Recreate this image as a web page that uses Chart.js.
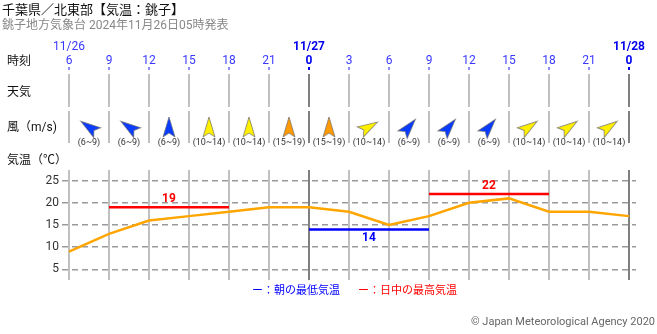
<!DOCTYPE html>
<html lang="ja">
<head>
<meta charset="utf-8">
<title>千葉県／北東部【気温：銚子】</title>
<script src="https://cdn.jsdelivr.net/npm/chart.js@4.4.1/dist/chart.umd.min.js"></script>
<style>
  html, body { margin: 0; padding: 0; background: #fff; }
  #wrap { width: 657px; height: 334px; position: relative; }
</style>
</head>
<body>
<div id="wrap"><canvas id="grafico-temp"></canvas></div>
<script>
const FONT = "Roboto, 'Noto Sans CJK JP', sans-serif";

// 3時間ごとの時刻（11/26 06時〜11/28 00時）
const hourLabels = [6, 9, 12, 15, 18, 21, 0, 3, 6, 9, 12, 15, 18, 21, 0];
const dateLabels = ["11/26", "", "", "", "", "", "11/27", "", "", "", "", "", "", "", "11/28"];

// 気温（℃）
const temperatures = [9, 13, 16, 17, 18, 19, 19, 18, 15, 17, 20, 21, 18, 18, 17];
const yTicks = [5, 10, 15, 20, 25];

// 風向（向かう方位、度）と風速の階級
const windDirections = [305, 305, 0, 0, 0, 0, 0, 60, 40, 40, 40, 55, 55, 55];
const windSpeeds = ["6~9", "6~9", "6~9", "10~14", "10~14", "15~19", "15~19",
                    "10~14", "6~9", "6~9", "6~9", "10~14", "10~14", "10~14"];

// 朝の最低気温・日中の最高気温（時刻の添字で区間）
const minSpans = [[6, 9]];
const minValues = [14];
const maxSpans = [[1, 4], [9, 12]];
const maxValues = [19, 22];

const windColors = { "6~9": "#0a3cff", "10~14": "#fff000", "15~19": "#ff9a00" };

function spanData(spans, values) {
  return spans.map((s, k) => [
    { x: s[0] * 3, y: values[k] },
    { x: s[1] * 3, y: values[k] },
  ]);
}

function drawArrow(ctx, cx, cy, deg, color) {
  ctx.save();
  ctx.translate(cx, cy);
  ctx.rotate((deg * Math.PI) / 180);
  ctx.beginPath();
  ctx.moveTo(0, -10);
  ctx.lineTo(6, 10);
  ctx.lineTo(0, 6);
  ctx.lineTo(-6, 10);
  ctx.closePath();
  ctx.fillStyle = color;
  ctx.fill();
  ctx.strokeStyle = "rgba(110,110,110,0.7)";
  ctx.lineWidth = 1;
  ctx.stroke();
  ctx.restore();
}

// 表の上段（時刻・天気・風）と注記
const tablePlugin = {
  id: "tablePlugin",
  afterDraw(chart) {
    const ctx = chart.ctx;
    const xs = chart.scales.x;
    const ys = chart.scales.y;
    ctx.save();
    ctx.textBaseline = "middle";

    ctx.textAlign = "left";
    ctx.fillStyle = "#111";
    ctx.font = "13px " + FONT;
    ctx.fillText("千葉県／北東部【気温：銚子】", 2, 11);
    ctx.fillStyle = "#888";
    ctx.font = "12px " + FONT;
    ctx.fillText("銚子地方気象台 2024年11月26日05時発表", 2, 26);

    ctx.fillStyle = "#111";
    ctx.font = "12px " + FONT;
    ctx.fillText("時刻", 7, 62);
    ctx.fillText("天気", 7, 93);
    ctx.fillText("風（m/s)", 7, 128);
    ctx.fillText("気温（℃）", 7, 161);

    ctx.textAlign = "center";
    hourLabels.forEach((h, i) => {
      const x = Math.round(xs.getPixelForValue(i * 3));
      const midnight = h === 0;
      ctx.font = (midnight ? "bold " : "") + "12px " + FONT;
      ctx.fillStyle = midnight ? "#0000ee" : "#3838ff";
      if (dateLabels[i]) ctx.fillText(dateLabels[i], x, 47);
      ctx.fillText(String(h), x, 61);
      ctx.fillStyle = midnight ? "#0000ee" : "#8c8cff";
      ctx.fillRect(x - 1, 67, 2, 3);
      ctx.fillStyle = midnight ? "#808080" : "#c0c0c0";
      ctx.fillRect(x - 1, 74, 2, 33);
      ctx.fillRect(x - 1, 111, 2, 32);
    });

    windDirections.forEach((d, i) => {
      const x = xs.getPixelForValue(i * 3 + 1.5);
      drawArrow(ctx, x, 127, d, windColors[windSpeeds[i]]);
      ctx.fillStyle = "#333";
      ctx.font = "9px " + FONT;
      ctx.fillText("(" + windSpeeds[i] + ")", x, 143);
    });

    ctx.font = "bold 12px " + FONT;
    maxSpans.forEach((s, k) => {
      const x = xs.getPixelForValue((s[0] + s[1]) * 1.5);
      ctx.fillStyle = "#ff0000";
      ctx.fillText(String(maxValues[k]), x, ys.getPixelForValue(maxValues[k]) - 8);
    });
    minSpans.forEach((s, k) => {
      const x = xs.getPixelForValue((s[0] + s[1]) * 1.5);
      ctx.fillStyle = "#0000ff";
      ctx.fillText(String(minValues[k]), x, ys.getPixelForValue(minValues[k]) + 9);
    });

    ctx.textAlign = "left";
    ctx.font = "11px " + FONT;
    ctx.fillStyle = "#0000ff";
    ctx.fillText("ー：朝の最低気温", 252, 291);
    ctx.fillStyle = "#ff0000";
    ctx.fillText("ー：日中の最高気温", 358, 291);

    ctx.textAlign = "right";
    ctx.fillStyle = "#666";
    ctx.font = "11px " + FONT;
    ctx.fillText("© Japan Meteorological Agency 2020", 655, 322);
    ctx.restore();
  },
};

const maxLines = spanData(maxSpans, maxValues);
const minLines = spanData(minSpans, minValues);

new Chart(document.getElementById("grafico-temp"), {
  type: "line",
  data: {
    datasets: [
      ...maxLines.map((pts) => ({
        data: pts, borderColor: "#ff0000", borderWidth: 2.5,
        pointRadius: 0, order: 1,
      })),
      ...minLines.map((pts) => ({
        data: pts, borderColor: "#0000ff", borderWidth: 2.5,
        pointRadius: 0, order: 1,
      })),
      {
        data: temperatures.map((t, i) => ({ x: i * 3, y: t })),
        borderColor: "#ffa500",
        borderWidth: 2.5,
        pointRadius: 0,
        tension: 0,
        order: 0,
      },
    ],
  },
  options: {
    responsive: true,
    maintainAspectRatio: false,
    animation: false,
    layout: { padding: { top: 170, right: 21, bottom: 54, left: 0 } },
    plugins: { legend: { display: false }, tooltip: { enabled: false } },
    scales: {
      x: {
        type: "linear",
        min: -0.525,
        max: 42.525,
        afterBuildTicks: (s) => { s.ticks = hourLabels.map((h, i) => ({ value: i * 3 })); },
        afterFit: (s) => { s.height = 0; },
        ticks: { display: false },
        grid: {
          color: (c) => (hourLabels[c.index] === 0 ? "#808080" : "#c0c0c0"),
          lineWidth: 2,
          drawTicks: false,
        },
        border: { display: false },
      },
      y: {
        min: 2.6,
        max: 27.4,
        afterBuildTicks: (s) => { s.ticks = yTicks.map((v) => ({ value: v })); },
        afterFit: (s) => { s.width = 62; },
        ticks: { color: "#333", font: { family: FONT, size: 12 }, padding: 3 },
        grid: { color: "#9a9a9a", lineWidth: 1.5, drawTicks: false },
        border: { display: false, dash: [6, 4] },
      },
    },
  },
  plugins: [tablePlugin],
});
</script>
</body>
</html>
